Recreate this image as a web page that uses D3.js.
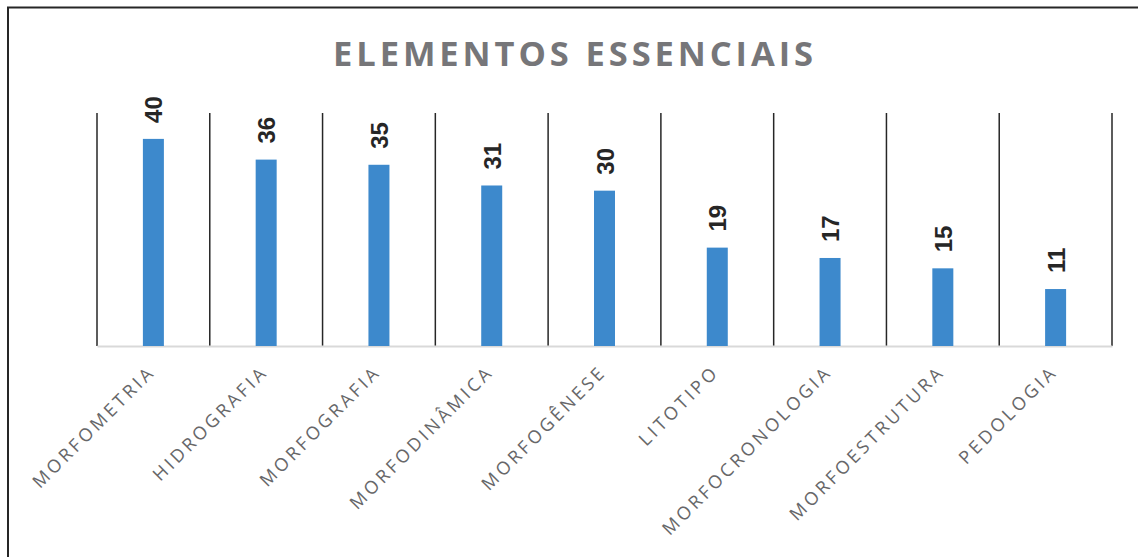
<!DOCTYPE html>
<html><head><meta charset="utf-8">
<script src="https://cdn.jsdelivr.net/npm/d3@7"></script>
<style>body{margin:0;background:#fff}</style>
</head><body>
<svg id="c" width="1138" height="557"></svg>
<script>
const categories = ["MORFOMETRIA","HIDROGRAFIA","MORFOGRAFIA","MORFODINÂMICA","MORFOGÊNESE","LITOTIPO","MORFOCRONOLOGIA","MORFOESTRUTURA","PEDOLOGIA"];
const values = [40,36,35,31,30,19,17,15,11];
const title = "ELEMENTOS ESSENCIAIS";

const svg = d3.select("#c");
svg.append("rect").attr("x",8).attr("y",7.5).attr("width",1140).attr("height",560)
  .attr("fill","#fff").attr("stroke","#262626").attr("stroke-width",2);

const m = {l:97, r:1112, t:113, b:346};
const x = d3.scaleBand().domain(categories).range([m.l, m.r]).paddingInner(0).paddingOuter(0);
const y = d3.scaleLinear().domain([0,45]).range([m.b, m.t]);

svg.append("text").attr("x",575).attr("y",66).attr("text-anchor","middle")
  .attr("font-family","'Open Sans', sans-serif").attr("font-weight","bold").attr("font-size",34.5)
  .attr("letter-spacing",3.9).attr("fill","#767679").text(title);

// separators
const seps = categories.map(c => x(c)).concat([m.r]);
svg.append("g").selectAll("line").data(seps).join("line")
  .attr("x1",d=>d).attr("x2",d=>d).attr("y1",m.t).attr("y2",m.b)
  .attr("stroke","#262626").attr("stroke-width",1.5);

// baseline axis
const ax = svg.append("g").attr("transform",`translate(0,${m.b})`)
  .call(d3.axisBottom(x).tickSize(0).tickFormat(""));
ax.select(".domain").attr("stroke","#d9d9d9").attr("stroke-width",2);

const bw = 21;
svg.append("g").selectAll("rect").data(values).join("rect")
  .attr("x",(d,i)=>x(categories[i])+x.bandwidth()/2-bw/2)
  .attr("width",bw).attr("y",d=>y(d)).attr("height",d=>m.b-y(d))
  .attr("fill","#3d89cc");

svg.append("g").selectAll("text").data(values).join("text")
  .attr("transform",(d,i)=>`translate(${x(categories[i])+x.bandwidth()/2+9},${y(d)-16}) rotate(-90)`)
  .attr("font-family","'Liberation Sans', Arial, sans-serif").attr("font-weight","bold")
  .attr("font-size",24).attr("fill","#262626").text(d=>d);

svg.append("g").selectAll("text").data(categories).join("text")
  .attr("transform",c=>`translate(${x(c)+x.bandwidth()/2+3},${m.b+27}) rotate(-45)`)
  .attr("text-anchor","end")
  .attr("font-family","'Open Sans', sans-serif").attr("font-size",18)
  .attr("letter-spacing",3.3).attr("fill","#676769").text(c=>c);
</script>
</body></html>
